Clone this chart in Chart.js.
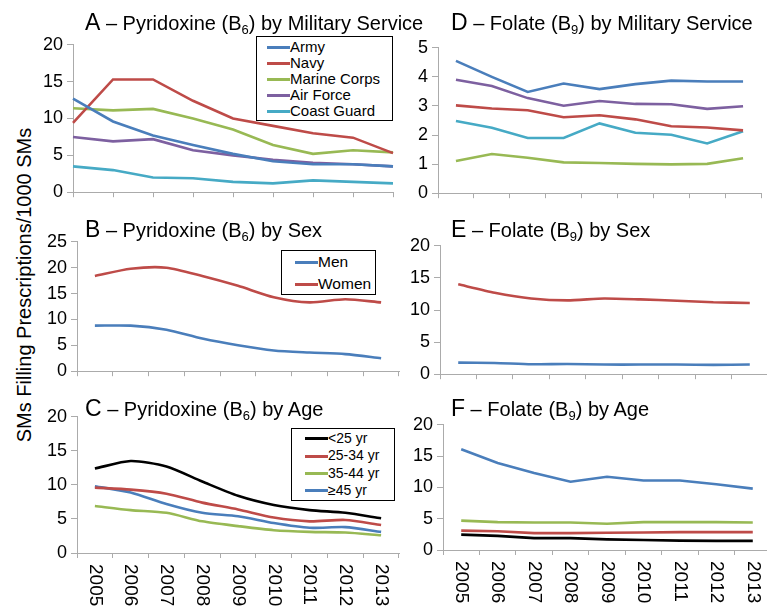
<!DOCTYPE html>
<html><head><meta charset="utf-8">
<script src="https://cdn.jsdelivr.net/npm/chart.js@4.4.0/dist/chart.umd.min.js"></script>
<style>
html,body{margin:0;padding:0;background:#fff;overflow:hidden;width:767px;height:608px;}
body{position:relative;font-family:"Liberation Sans",Arial,Helvetica,sans-serif;color:#000;}
canvas.cv{position:absolute;}
.title{position:absolute;white-space:nowrap;font-size:20px;line-height:24px;height:24px;}
.title .L{font-size:23px;}
.title .sub{font-size:13px;position:relative;top:4px;}
.legend{position:absolute;border:1px solid #000;background:#fff;box-sizing:border-box;}
.legend .row{display:flex;align-items:center;white-space:nowrap;}
.legend .sw{display:inline-block;height:3px;width:23px;}
.ytitle{position:absolute;left:24px;top:285px;white-space:nowrap;font-size:20px;transform:translate(-50%,-50%) rotate(-90deg);}
</style>
</head><body>
<div class="ytitle">SMs Filling Prescriptions/1000 SMs</div>
<script>
// ---------- data ----------
const years = ['2005','2006','2007','2008','2009','2010','2011','2012','2013'];

const serviceNames = ['Army','Navy','Marine Corps','Air Force','Coast Guard'];
const sexNames = ['Men','Women'];
const ageNames = ['<25 yr','25-34 yr','35-44 yr','\u226545 yr'];

// A - Pyridoxine (B6) by Military Service
const armyB6       = [12.7, 9.6, 7.7, 6.4, 5.2, 4.2, 3.8, 3.8, 3.5];
const navyB6       = [9.4, 15.3, 15.3, 12.4, 10.0, 9.0, 8.0, 7.4, 5.3];
const marineB6     = [11.4, 11.1, 11.3, 10.0, 8.5, 6.4, 5.2, 5.7, 5.4];
const airForceB6   = [7.5, 6.9, 7.2, 5.7, 5.0, 4.4, 4.0, 3.8, 3.5];
const coastGuardB6 = [3.5, 3.0, 2.0, 1.9, 1.4, 1.2, 1.6, 1.4, 1.2];

// D - Folate (B9) by Military Service
const armyB9       = [4.55, 4.0, 3.48, 3.77, 3.58, 3.75, 3.87, 3.84, 3.84];
const navyB9       = [3.02, 2.91, 2.85, 2.61, 2.68, 2.54, 2.30, 2.26, 2.16];
const marineB9     = [1.11, 1.35, 1.22, 1.06, 1.04, 1.01, 0.99, 1.01, 1.20];
const airForceB9   = [3.90, 3.69, 3.27, 3.01, 3.17, 3.07, 3.06, 2.90, 2.99];
const coastGuardB9 = [2.48, 2.25, 1.90, 1.90, 2.40, 2.08, 2.01, 1.71, 2.13];

// B - Pyridoxine (B6) by Sex
const menB6   = [8.8, 8.8, 8.0, 6.3, 5.0, 4.0, 3.6, 3.3, 2.5];
const womenB6 = [18.4, 19.8, 20.0, 18.4, 16.5, 14.3, 13.3, 13.9, 13.3];

// E - Folate (B9) by Sex
const menB9   = [1.8, 1.75, 1.55, 1.6, 1.5, 1.5, 1.5, 1.45, 1.5];
const womenB9 = [14.0, 12.7, 11.8, 11.5, 11.8, 11.65, 11.45, 11.2, 11.1];

// C - Pyridoxine (B6) by Age
const under25B6   = [12.4, 13.5, 12.7, 10.5, 8.4, 7.05, 6.3, 5.9, 5.1];
const age25to34B6 = [9.6, 9.3, 8.7, 7.4, 6.4, 5.2, 4.65, 4.85, 4.1];
const age35to44B6 = [6.9, 6.3, 5.9, 4.65, 3.95, 3.35, 3.1, 3.0, 2.6];
const age45plusB6 = [9.8, 8.9, 7.2, 5.9, 5.4, 4.4, 3.7, 3.8, 3.1];

// F - Folate (B9) by Age
const under25B9   = [2.45, 2.25, 1.9, 1.9, 1.7, 1.6, 1.5, 1.45, 1.45];
const age25to34B9 = [3.1, 3.0, 2.7, 2.7, 2.75, 2.8, 2.85, 2.85, 2.85];
const age35to44B9 = [4.7, 4.45, 4.4, 4.4, 4.2, 4.45, 4.45, 4.45, 4.4];
const age45plusB9 = [16.1, 13.9, 12.3, 10.9, 11.7, 11.1, 11.1, 10.5, 9.8];

// ---------- styling ----------
const C_BLUE='#4a7ebb', C_RED='#be4b48', C_GREEN='#98b954', C_PURPLE='#7d60a0', C_CYAN='#46aac5', C_BLACK='#000000';
const serviceColors=[C_BLUE,C_RED,C_GREEN,C_PURPLE,C_CYAN];
const sexColors=[C_BLUE,C_RED];
const ageColors=[C_BLACK,C_RED,C_GREEN,C_BLUE];
const AXIS='#ababab';
const FONT='"Liberation Sans", Arial, Helvetica, sans-serif';

const yearLabelPlugin={
  id:'yearLabels',
  afterDraw(chart,args,o){
    if(!o||!o.show) return;
    const xs=chart.scales.x, ctx=chart.ctx;
    ctx.save();
    ctx.font='19px '+FONT; ctx.fillStyle='#000'; ctx.textAlign='left'; ctx.textBaseline='middle';
    xs.ticks.forEach((t,i)=>{
      const x=xs.getPixelForTick(i);
      ctx.save(); ctx.translate(x, xs.top+11); ctx.rotate(Math.PI/2);
      ctx.fillText(xs.getLabelForValue(t.value),0,0); ctx.restore();
    });
    ctx.restore();
  }
};

function panel(p){
  const YW=60, PT=12, PR=8;
  const xh = p.labels ? 70 : 8;
  const cv=document.createElement('canvas');
  cv.className='cv';
  const w=p.R-p.L+YW+PR, h=p.B-p.T+PT+xh;
  cv.width=w; cv.height=h;
  cv.style.left=(p.L-YW)+'px'; cv.style.top=(p.T-PT)+'px';
  cv.style.width=w+'px'; cv.style.height=h+'px';
  document.body.appendChild(cv);
  new Chart(cv,{
    type:'line',
    data:{labels:years,datasets:p.series.map((d,i)=>({label:p.names[i],data:d,borderColor:p.colors[i],backgroundColor:p.colors[i],borderWidth:2.6,pointRadius:0,tension:p.tension||0,fill:false}))},
    options:{
      responsive:false,animation:false,devicePixelRatio:1,
      layout:{padding:{top:PT,right:PR,left:0,bottom:0},autoPadding:false},
      plugins:{legend:{display:false},tooltip:{enabled:false},yearLabels:{show:!!p.labels}},
      scales:{
        x:{type:'category',offset:p.offset,
           grid:{display:true,offset:p.offset,drawOnChartArea:false,drawTicks:true,tickLength:5,color:AXIS,lineWidth:1},
           border:{display:true,color:AXIS,width:1},
           ticks:{display:false},
           afterFit:s=>{s.height=xh;}},
        y:{min:0,max:p.max,
           grid:{drawOnChartArea:false,drawTicks:true,tickLength:6,color:AXIS,lineWidth:1},
           border:{display:true,color:AXIS,width:1},
           ticks:{stepSize:p.step,color:'#000',padding:4,font:{size:18,family:FONT}},
           afterFit:s=>{s.width=YW;}}
      }
    },
    plugins:[yearLabelPlugin]
  });
}

panel({L:73,R:393,T:42,B:199,max:20,step:5,offset:false,series:[armyB6,navyB6,marineB6,airForceB6,coastGuardB6],names:serviceNames,colors:serviceColors});
panel({L:77,R:399,T:239,B:378,max:25,step:5,offset:true,tension:0.25,series:[menB6,womenB6],names:sexNames,colors:sexColors});
panel({L:77,R:399,T:414,B:553,max:20,step:5,offset:true,tension:0.25,labels:true,series:[under25B6,age25to34B6,age35to44B6,age45plusB6],names:ageNames,colors:ageColors});
panel({L:438,R:761,T:45,B:200,max:5,step:1,offset:true,series:[armyB9,navyB9,marineB9,airForceB9,coastGuardB9],names:serviceNames,colors:serviceColors});
panel({L:440,R:768,T:243,B:381,max:20,step:5,offset:true,tension:0.2,series:[menB9,womenB9],names:sexNames,colors:sexColors});
panel({L:443,R:771,T:422,B:550,max:20,step:5,offset:true,labels:true,series:[under25B9,age25to34B9,age35to44B9,age45plusB9],names:ageNames,colors:ageColors});

// ---------- titles ----------
function title(x,baseline,letter,pre,sub,post){
  const d=document.createElement('div'); d.className='title';
  d.style.left=x+'px'; d.style.top=(baseline-20)+'px';
  const L=document.createElement('span'); L.className='L'; L.textContent=letter;
  const s=document.createElement('span'); s.className='sub'; s.textContent=sub;
  d.appendChild(L); d.appendChild(document.createTextNode(' \u2013 '+pre)); d.appendChild(s); d.appendChild(document.createTextNode(post));
  document.body.appendChild(d);
}
title(85,30,'A','Pyridoxine (B','6',') by Military Service');
title(85,237,'B','Pyridoxine (B','6',') by Sex');
title(85,416,'C','Pyridoxine (B','6',') by Age');
title(451,30,'D','Folate (B','9',') by Military Service');
title(451,237,'E','Folate (B','9',') by Sex');
title(451,416,'F','Folate (B','9',') by Age');

// ---------- legends ----------
function legend(box,names,colors,rowH,font,swLeft,padTop){
  const d=document.createElement('div'); d.className='legend';
  d.style.left=box[0]+'px'; d.style.top=box[1]+'px'; d.style.width=box[2]+'px'; d.style.height=box[3]+'px';
  d.style.paddingTop=padTop+'px'; d.style.paddingLeft=swLeft+'px'; d.style.fontSize=font+'px';
  names.forEach((n,i)=>{
    const r=document.createElement('div'); r.className='row'; r.style.height=rowH+'px'; r.style.lineHeight=rowH+'px';
    const sw=document.createElement('span'); sw.className='sw'; sw.style.background=colors[i];
    const t=document.createElement('span'); t.textContent=n;
    r.appendChild(sw); r.appendChild(t); d.appendChild(r);
  });
  document.body.appendChild(d);
}
legend([256,36,137,85],serviceNames,serviceColors,16,15,10,2);
legend([281,250,95,45],sexNames,sexColors,22,15.5,13,0);
legend([291,428,104,73],ageNames,ageColors,17.4,14,13,1);
</script>
</body></html>
